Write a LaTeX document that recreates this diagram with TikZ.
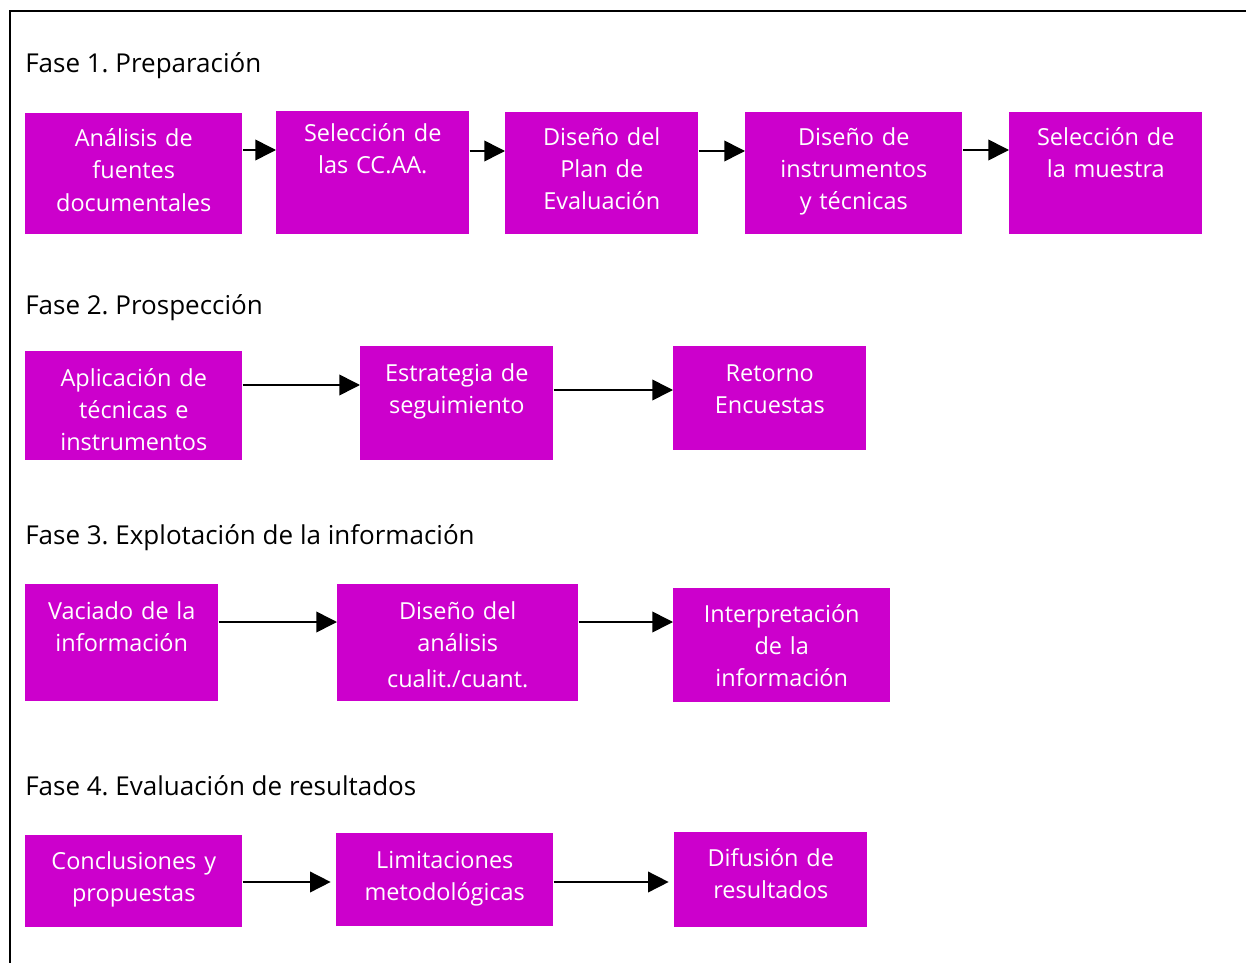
\documentclass[tikz,border=0pt]{standalone}
\usepackage{fontspec}
\setmainfont{Open Sans}
\frenchspacing
\usetikzlibrary{arrows.meta, positioning}
\definecolor{phasefill}{RGB}{204,0,204}
\tikzset{
    stepbox/.style={rectangle, fill=phasefill, inner sep=0pt, anchor=north west},
    steptext/.style={text=white, font=\fontsize{17.6}{24}\selectfont, align=center, inner sep=0pt, anchor=base, text width=#1},
    phasetitle/.style={font=\fontsize{19.5}{22}\selectfont, anchor=base west, inner sep=0pt},
    arrow/.style={-{Triangle[length=15.5pt, width=15.5pt]}, line width=1.2pt, black},
    frameline/.style={line width=1.5pt, black},
}

\begin{document}
\begin{tikzpicture}[x=0.75pt, y=-0.75pt]
\useasboundingbox (0,0) rectangle (1246,963);

% Frame
\draw[frameline] (10,963) -- (10,11) -- (1246,11);

% Fase 1
\node[phasetitle] (ph1-title) at (25,73) {Fase 1. Preparación};
\node[stepbox, minimum width=162.75pt, minimum height=90.75pt] (b11) at (25,113) {};
\node[steptext=160pt] (b11-text) at ([yshift=-25.5pt]b11.north) {Análisis de\\fuentes\\documentales};
\node[stepbox, minimum width=144.75pt, minimum height=92.25pt] (b12) at (276,111) {};
\node[steptext=140pt] (b12-text) at ([yshift=-23.25pt]b12.north) {Selección de\\las CC.AA.};
\node[stepbox, minimum width=144.75pt, minimum height=91.5pt] (b13) at (505,112) {};
\node[steptext=140pt] (b13-text) at ([yshift=-25.5pt]b13.north) {Diseño del\\Plan de\\Evaluación};
\node[stepbox, minimum width=162.75pt, minimum height=91.5pt] (b14) at (745,112) {};
\node[steptext=160pt] (b14-text) at ([yshift=-25.5pt]b14.north) {Diseño de\\instrumentos\\y técnicas};
\node[stepbox, minimum width=144.75pt, minimum height=91.5pt] (b15) at (1009,112) {};
\node[steptext=140pt] (b15-text) at ([yshift=-25.5pt]b15.north) {Selección de\\la muestra};

% Fase 2
\node[phasetitle] (ph2-title) at (25,314) {Fase 2. Prospección};
\node[stepbox, minimum width=162.75pt, minimum height=81.75pt] (b21) at (25,351) {};
\node[steptext=160pt] (b21-text) at ([yshift=-26.25pt]b21.north) {Aplicación de\\técnicas e\\instrumentos};
\node[stepbox, minimum width=144.75pt, minimum height=85.5pt] (b22) at (360,346) {};
\node[steptext=140pt] (b22-text) at ([yshift=-26.25pt]b22.north) {Estrategia de\\seguimiento};
\node[stepbox, minimum width=144.75pt, minimum height=78pt] (b23) at (673,346) {};
\node[steptext=140pt] (b23-text) at ([yshift=-26.25pt]b23.north) {Retorno\\Encuestas};

% Fase 3
\node[phasetitle] (ph3-title) at (25,544) {Fase 3. Explotación de la información};
\node[stepbox, minimum width=144.75pt, minimum height=87.75pt] (b31) at (25,584) {};
\node[steptext=140pt] (b31-text) at ([yshift=-26.25pt]b31.north) {Vaciado de la\\información};
\node[stepbox, minimum width=180.75pt, minimum height=87.75pt] (b32) at (337,584) {};
\node[steptext=176pt] (b32-text) at ([yshift=-26.25pt]b32.north) {Diseño del\\análisis\\[3.5pt]cualit./cuant.};
\node[stepbox, minimum width=162.75pt, minimum height=85.5pt] (b33) at (673,588) {};
\node[steptext=160pt] (b33-text) at ([yshift=-25.5pt]b33.north) {Interpretación\\de la\\información};

% Fase 4
\node[phasetitle] (ph4-title) at (25,795) {Fase 4. Evaluación de resultados};
\node[stepbox, minimum width=162.75pt, minimum height=69pt] (b41) at (25,835) {};
\node[steptext=160pt] (b41-text) at ([yshift=-25.5pt]b41.north) {Conclusiones y\\propuestas};
\node[stepbox, minimum width=162.75pt, minimum height=69.75pt] (b42) at (336,833) {};
\node[steptext=160pt] (b42-text) at ([yshift=-26.25pt]b42.north) {Limitaciones\\metodológicas};
\node[stepbox, minimum width=144.75pt, minimum height=71.25pt] (b43) at (674,832) {};
\node[steptext=140pt] (b43-text) at ([yshift=-25.5pt]b43.north) {Difusión de\\resultados};

% Arrows
\coordinate (r1a) at (0,150);
\coordinate (r1b) at (0,151);
\coordinate (r2a) at (0,385);
\coordinate (r2b) at (0,390);
\coordinate (r3) at (0,622);
\coordinate (r4) at (0,882);
\draw[arrow] (b11.east |- r1a) -- (b12.west |- r1a);
\draw[arrow] (b12.east |- r1b) -- (b13.west |- r1b);
\draw[arrow] (b13.east |- r1b) -- (b14.west |- r1b);
\draw[arrow] (b14.east |- r1a) -- (b15.west |- r1a);
\draw[arrow] (b21.east |- r2a) -- (b22.west |- r2a);
\draw[arrow] (b22.east |- r2b) -- (b23.west |- r2b);
\draw[arrow] (b31.east |- r3) -- (b32.west |- r3);
\draw[arrow] (b32.east |- r3) -- (b33.west |- r3);
\draw[arrow, shorten >=4pt] (b41.east |- r4) -- (b42.west |- r4);
\draw[arrow, shorten >=4pt] (b42.east |- r4) -- (b43.west |- r4);

\end{tikzpicture}
\end{document}
